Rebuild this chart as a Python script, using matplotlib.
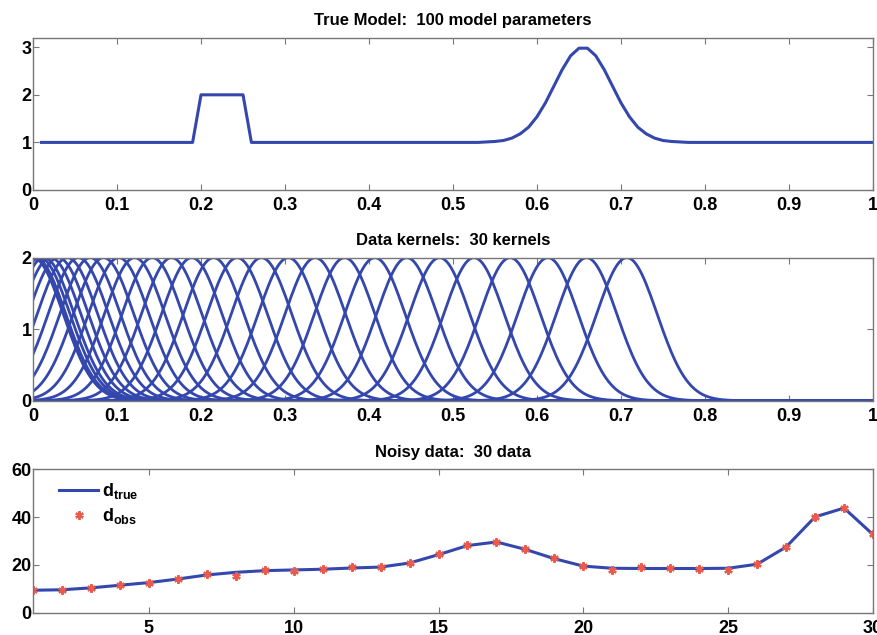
import numpy as np
from matplotlib import pyplot as plt

plt.rcParams['font.family'] = ['Liberation Sans', 'DejaVu Sans']
plt.rcParams['font.weight'] = 'bold'
plt.rcParams['mathtext.fontset'] = 'custom'
plt.rcParams['mathtext.bf'] = 'Liberation Sans:bold'
plt.rcParams['mathtext.rm'] = 'Liberation Sans:bold'

BLUE = '#3447ad'
RED = '#ec5a4c'

# true model, 100 parameters on z = 0.01 .. 1.00
z_model = np.arange(1, 101) / 100.0
bump = [1.01, 1.02, 1.04, 1.09, 1.18, 1.32, 1.54, 1.83, 2.18, 2.53, 2.82, 2.98,
        2.98, 2.82, 2.53, 2.18, 1.83, 1.54, 1.32, 1.18, 1.09, 1.04, 1.02, 1.01]
m_true = [1.0]*19 + [2.0]*6 + [1.0]*28 + bump + [1.0]*23

# data kernels: peak positions
kernel_centers = [0.000, 0.001, 0.003, 0.008, 0.013, 0.021, 0.030, 0.041, 0.054, 0.068,
                  0.084, 0.102, 0.121, 0.142, 0.165, 0.189, 0.215, 0.243, 0.272, 0.304,
                  0.336, 0.371, 0.407, 0.445, 0.484, 0.525, 0.568, 0.613, 0.659, 0.707]
kernel_peak = 2.0
kernel_sigma = 0.036

# noisy data
idx = np.arange(1, 31)
d_true = [9.4, 9.6, 10.4, 11.5, 12.6, 14.1, 15.8, 16.9, 17.6, 17.9,
          18.2, 18.7, 19.1, 20.8, 24.3, 28.1, 29.6, 26.5, 22.6, 19.5,
          18.6, 18.5, 18.5, 18.5, 18.6, 20.3, 27.5, 40.1, 43.8, 32.7]
d_obs = [9.5, 9.5, 10.5, 11.6, 12.6, 14.0, 16.2, 15.5, 17.9, 17.4,
         18.3, 19.3, 19.0, 20.9, 24.4, 28.3, 29.7, 26.5, 22.8, 19.5,
         17.9, 19.0, 18.6, 18.3, 17.9, 20.4, 27.6, 40.2, 43.9, 32.8]

xlabels = ['0', '0.1', '0.2', '0.3', '0.4', '0.5', '0.6', '0.7', '0.8', '0.9', '1']


def style_axes(ax):
	for s in ax.spines.values():
		s.set_color('#777777')
		s.set_linewidth(1.0)
	ax.tick_params(direction='in', top=True, right=True, length=4, width=0.8,
		color='#777777', labelsize=13)
	ax.tick_params(axis='x', pad=5)
	ax.tick_params(axis='y', pad=1)
	for lab in ax.get_xticklabels() + ax.get_yticklabels():
		lab.set_fontweight('bold')


fig = plt.figure(figsize=(8.78, 6.35), dpi=100)

# top: true model
ax1 = fig.add_axes([0.0376, 0.7008, 0.9567, 0.2398])
ax1.plot(z_model, m_true, color=BLUE, lw=2.2)
ax1.set_xlim(0, 1)
ax1.set_ylim(0, 3.2)
ax1.set_xticks(np.arange(0, 1.01, 0.1))
ax1.set_xticklabels(xlabels)
ax1.set_yticks([0, 1, 2, 3])
ax1.set_title('True Model:  100 model parameters', fontsize=12, fontweight='bold', pad=9)
style_axes(ax1)

# middle: kernels
ax2 = fig.add_axes([0.0376, 0.369, 0.9567, 0.2252])
zk = np.linspace(0, 1, 401)
for c in kernel_centers:
	ax2.plot(zk, kernel_peak*np.exp(-(zk - c)**2/(2*kernel_sigma**2)), color=BLUE, lw=2.0)
ax2.set_xlim(0, 1)
ax2.set_ylim(0, 2)
ax2.set_xticks(np.arange(0, 1.01, 0.1))
ax2.set_xticklabels(xlabels)
ax2.set_yticks([0, 1, 2])
ax2.set_title('Data kernels:  30 kernels', fontsize=12, fontweight='bold', pad=9)
style_axes(ax2)

# bottom: data
ax3 = fig.add_axes([0.0376, 0.0351, 0.9567, 0.2258])
ax3.plot(idx, d_true, color=BLUE, lw=2.2, label=r'$\mathbf{d}_{\mathbf{true}}$')
ax3.plot(idx, d_obs, ls='none', marker=(6, 2, 0), ms=6, mew=1.6, color=RED,
	label=r'$\mathbf{d}_{\mathbf{obs}}$')
ax3.set_xlim(1, 30)
ax3.set_ylim(0, 60)
ax3.set_xticks([5, 10, 15, 20, 25, 30])
ax3.set_yticks([0, 20, 40, 60])
ax3.set_title('Noisy data:  30 data', fontsize=12, fontweight='bold', pad=9)
leg = ax3.legend(loc='upper left', bbox_to_anchor=(0.022, 0.97), frameon=False, fontsize=13,
	handlelength=2.2, handletextpad=0.2, borderaxespad=0.0, labelspacing=0.3)
style_axes(ax3)

fig.savefig('out.png', dpi=100, facecolor='white')
